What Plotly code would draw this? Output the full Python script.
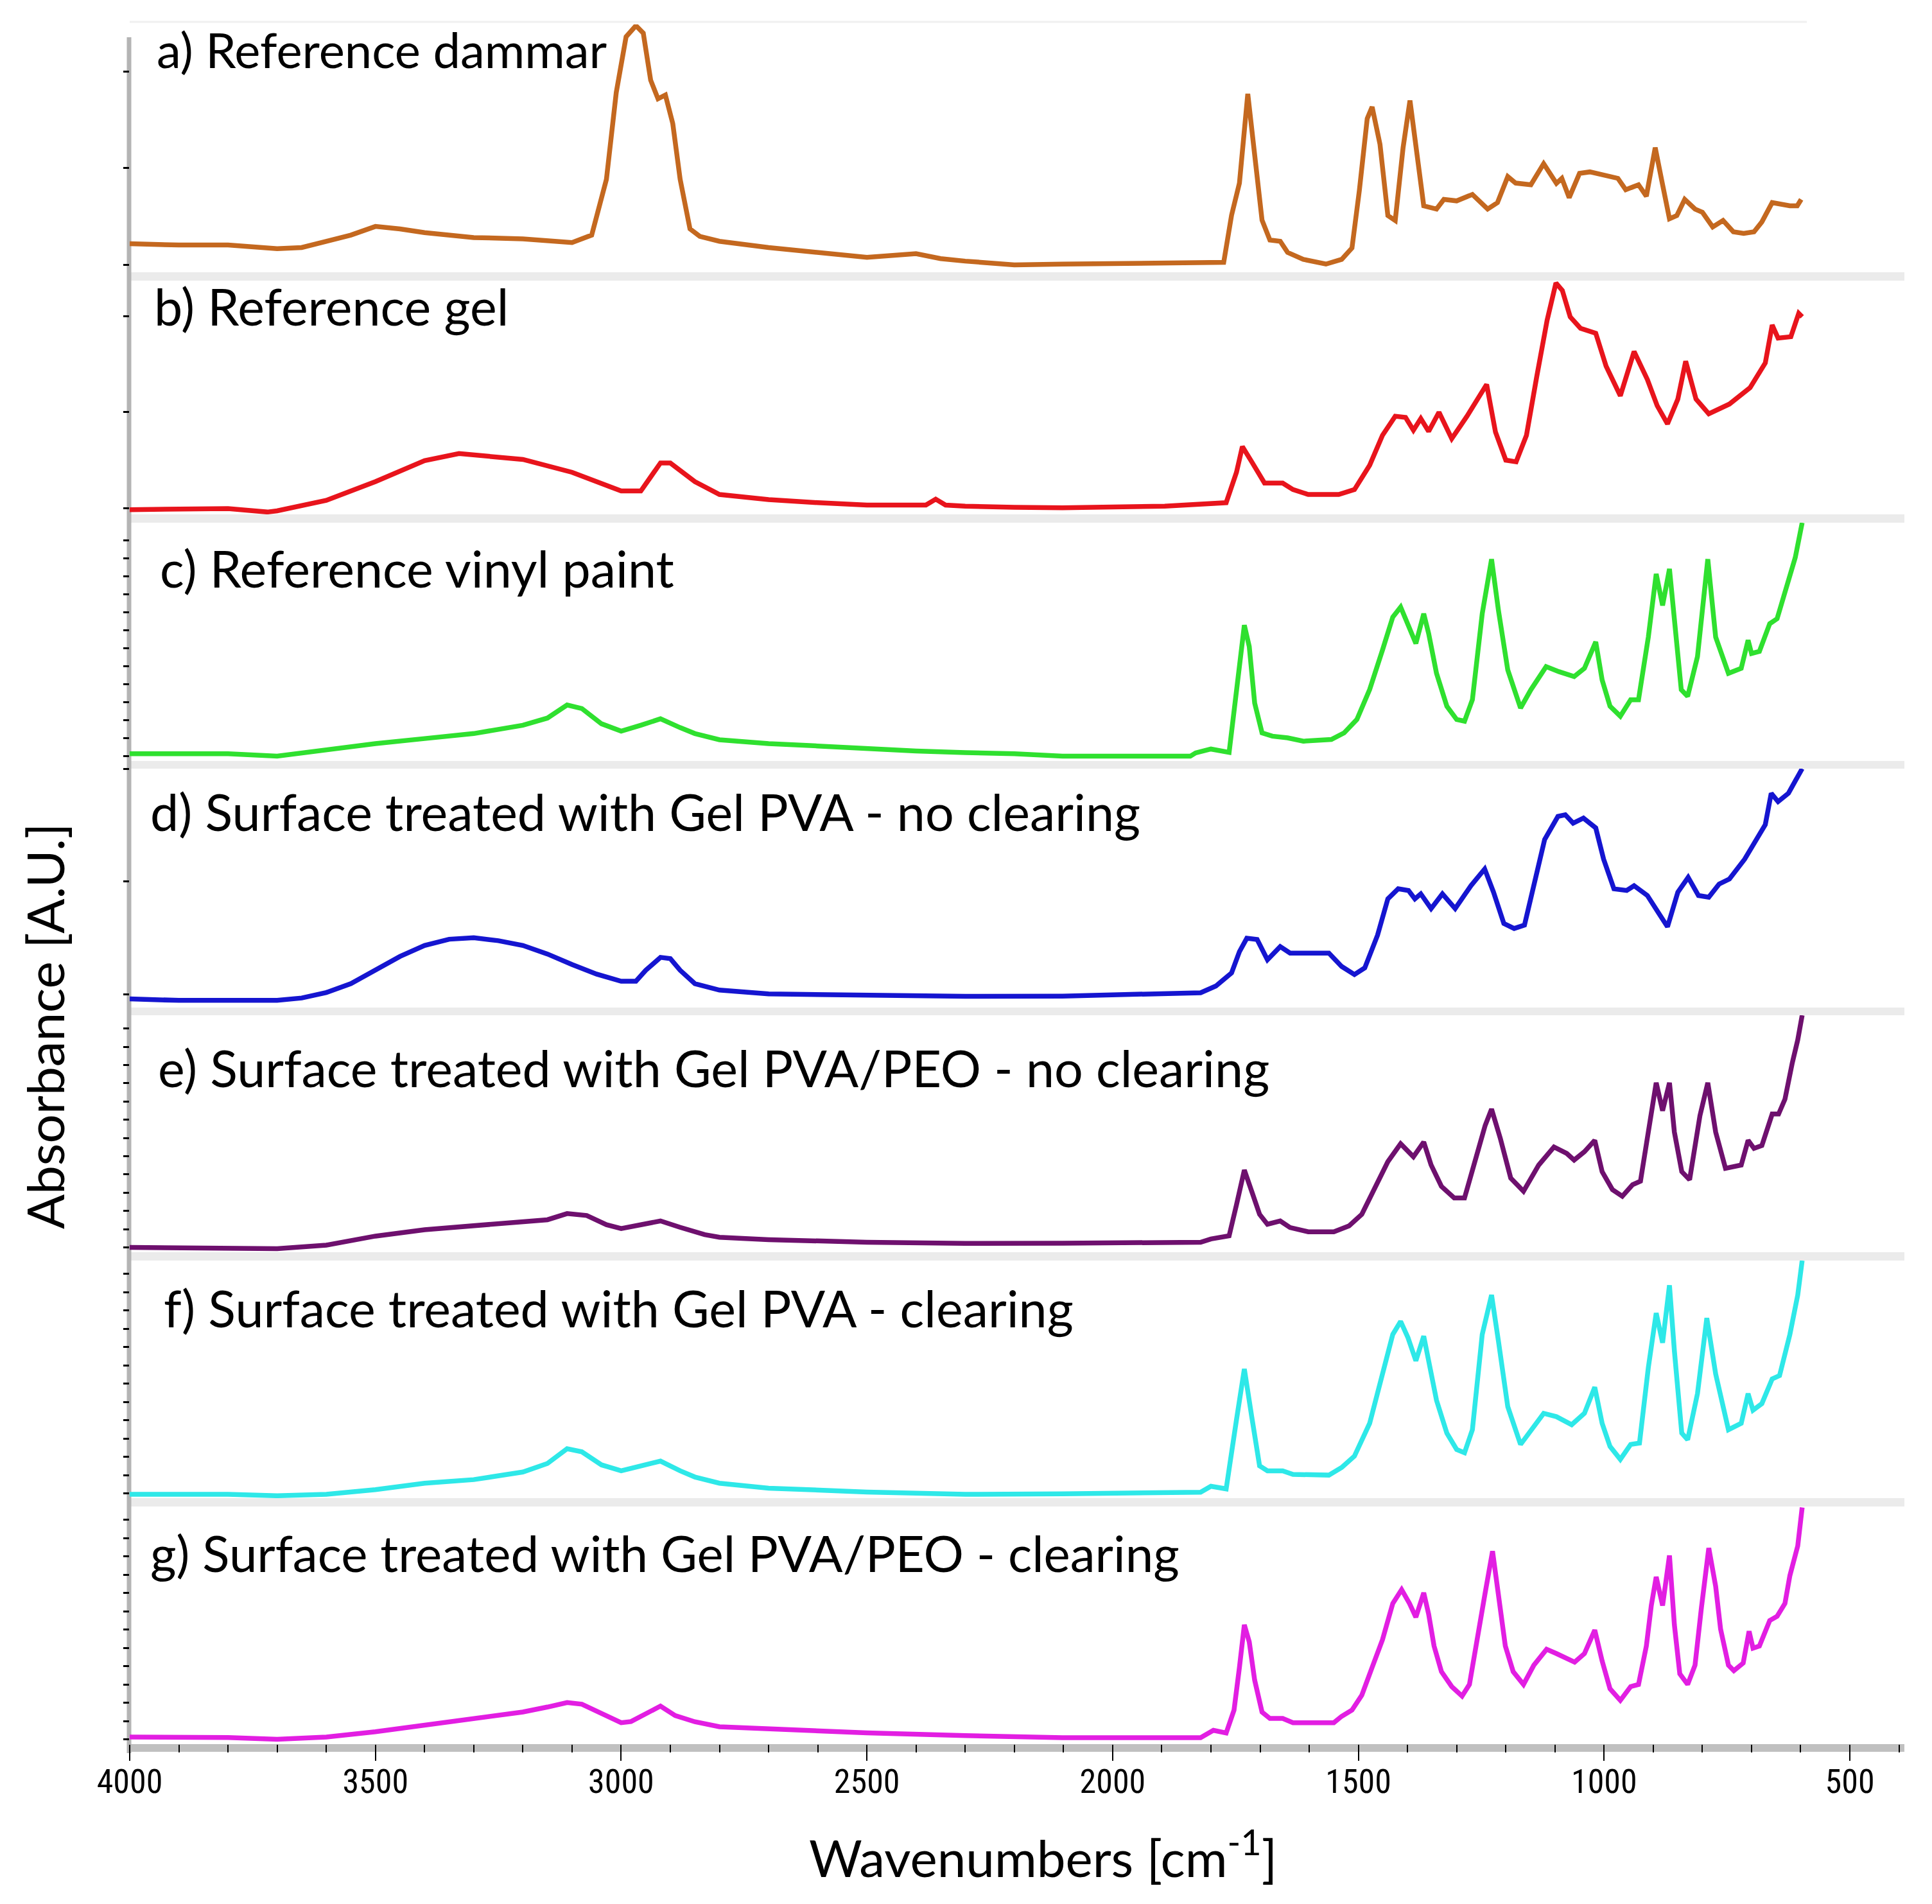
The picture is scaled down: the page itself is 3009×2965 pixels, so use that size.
import plotly.graph_objects as go

# ---------------- data (absorbance as fraction of panel height) -------------
wn_a = [4000, 3900, 3800, 3700, 3650, 3600, 3550, 3500, 3450, 3400, 3300, 3200, 3100, 3060, 3030, 3010,
        2990, 2970, 2955, 2940, 2925, 2910, 2895, 2880, 2860, 2840, 2800, 2700, 2600, 2500, 2400, 2350,
        2300, 2200, 2102, 1900, 1774, 1758, 1742, 1725, 1711, 1696, 1680, 1659, 1644, 1612, 1566, 1534,
        1513, 1498, 1482, 1472, 1456, 1440, 1425, 1409, 1395, 1383, 1367, 1341, 1326, 1300, 1268, 1237,
        1217, 1196, 1180, 1149, 1123, 1097, 1086, 1071, 1050, 1029, 998, 972, 956, 930, 914, 896, 883,
        867, 852, 836, 815, 800, 779, 758, 737, 716, 695, 679, 658, 643, 622, 607, 599]
abs_a = [0.115, 0.11, 0.11, 0.095, 0.10, 0.125, 0.15, 0.185, 0.175, 0.16, 0.14, 0.135, 0.12, 0.15, 0.375,
         0.725, 0.95, 0.995, 0.965, 0.775, 0.70, 0.715, 0.60, 0.375, 0.175, 0.145, 0.125, 0.10, 0.08, 0.06,
         0.075, 0.055, 0.045, 0.03, 0.033, 0.04, 0.04, 0.23, 0.36, 0.72, 0.48, 0.21, 0.13, 0.125, 0.08,
         0.052, 0.033, 0.052, 0.098, 0.33, 0.62, 0.667, 0.516, 0.229, 0.209, 0.503, 0.693, 0.516, 0.268,
         0.255, 0.294, 0.288, 0.314, 0.255, 0.281, 0.386, 0.36, 0.353, 0.438, 0.359, 0.379, 0.301, 0.399,
         0.405, 0.392, 0.379, 0.333, 0.353, 0.307, 0.503, 0.373, 0.216, 0.229, 0.294, 0.255, 0.242, 0.183,
         0.209, 0.163, 0.157, 0.163, 0.203, 0.281, 0.275, 0.268, 0.268, 0.294]

wn_b = [4000, 3800, 3720, 3700, 3600, 3500, 3400, 3330, 3200, 3100, 3000, 2960, 2940, 2920, 2900, 2880,
        2850, 2800, 2700, 2600, 2500, 2380, 2360, 2340, 2300, 2200, 2102, 1894, 1769, 1748, 1736, 1717,
        1691, 1654, 1633, 1602, 1540, 1508, 1477, 1451, 1425, 1404, 1388, 1373, 1357, 1336, 1310, 1279,
        1239, 1221, 1200, 1179, 1158, 1137, 1116, 1098, 1085, 1069, 1048, 1017, 996, 967, 939, 912, 892,
        871, 850, 834, 813, 787, 745, 703, 672, 658, 646, 620, 604, 597]
abs_b = [0.02, 0.025, 0.01, 0.015, 0.06, 0.14, 0.23, 0.26, 0.235, 0.18, 0.10, 0.10, 0.16, 0.22, 0.22, 0.19,
         0.14, 0.085, 0.063, 0.05, 0.04, 0.04, 0.065, 0.04, 0.035, 0.03, 0.028, 0.035, 0.05, 0.18, 0.29,
         0.225, 0.134, 0.134, 0.106, 0.085, 0.085, 0.106, 0.21, 0.338, 0.42, 0.415, 0.36, 0.41, 0.355,
         0.437, 0.324, 0.42, 0.556, 0.352, 0.232, 0.225, 0.338, 0.59, 0.83, 0.99, 0.958, 0.845, 0.796,
         0.775, 0.634, 0.507, 0.697, 0.577, 0.465, 0.387, 0.493, 0.655, 0.493, 0.43, 0.472, 0.542, 0.648,
         0.81, 0.754, 0.76, 0.86, 0.845]

wn_c = [4000, 3800, 3700, 3600, 3500, 3400, 3300, 3200, 3150, 3110, 3080, 3040, 3000, 2960, 2920, 2880,
        2850, 2800, 2700, 2600, 2500, 2400, 2300, 2200, 2102, 1842, 1831, 1800, 1763, 1748, 1732, 1722,
        1711, 1696, 1675, 1644, 1612, 1555, 1529, 1503, 1477, 1451, 1430, 1414, 1399, 1383, 1367, 1357,
        1341, 1320, 1300, 1284, 1268, 1248, 1229, 1215, 1196, 1170, 1149, 1118, 1092, 1061, 1040, 1017,
        1004, 988, 967, 946, 930, 910, 894, 881, 867, 857, 843, 830, 810, 789, 773, 747, 721, 707, 700,
        684, 663, 648, 627, 611, 597]
abs_c = [0.03, 0.03, 0.02, 0.047, 0.073, 0.094, 0.115, 0.15, 0.18, 0.235, 0.22, 0.156, 0.125, 0.15, 0.177,
         0.14, 0.115, 0.089, 0.073, 0.063, 0.05, 0.042, 0.035, 0.03, 0.02, 0.02, 0.034, 0.05, 0.036, 0.30,
         0.57, 0.48, 0.243, 0.118, 0.104, 0.097, 0.083, 0.09, 0.118, 0.174, 0.30, 0.465, 0.604, 0.646,
         0.576, 0.493, 0.618, 0.535, 0.368, 0.23, 0.174, 0.167, 0.257, 0.618, 0.847, 0.632, 0.382, 0.222,
         0.299, 0.396, 0.375, 0.354, 0.389, 0.50, 0.34, 0.23, 0.188, 0.257, 0.257, 0.52, 0.785, 0.653,
         0.806, 0.576, 0.299, 0.271, 0.438, 0.847, 0.52, 0.368, 0.389, 0.507, 0.451, 0.46, 0.576, 0.597,
         0.743, 0.854, 1.0]

wn_d = [4000, 3900, 3800, 3700, 3650, 3600, 3550, 3500, 3450, 3400, 3350, 3300, 3250, 3200, 3150, 3100,
        3050, 3000, 2970, 2950, 2920, 2900, 2880, 2850, 2800, 2700, 2500, 2300, 2102, 1821, 1790, 1758,
        1742, 1727, 1706, 1685, 1659, 1639, 1560, 1534, 1508, 1487, 1461, 1440, 1419, 1398, 1385, 1373,
        1352, 1329, 1303, 1271, 1243, 1225, 1204, 1183, 1162, 1141, 1121, 1094, 1079, 1063, 1042, 1017,
        1001, 980, 954, 939, 912, 886, 871, 850, 829, 808, 787, 766, 745, 714, 693, 672, 660, 646, 625,
        609, 597]
abs_d = [0.036, 0.03, 0.03, 0.03, 0.04, 0.063, 0.10, 0.156, 0.214, 0.26, 0.286, 0.292, 0.28, 0.26, 0.224,
         0.18, 0.14, 0.11, 0.11, 0.156, 0.21, 0.205, 0.156, 0.10, 0.073, 0.057, 0.052, 0.047, 0.048, 0.062,
         0.09, 0.145, 0.234, 0.29, 0.285, 0.20, 0.255, 0.228, 0.228, 0.172, 0.138, 0.166, 0.303, 0.455,
         0.497, 0.49, 0.455, 0.476, 0.414, 0.476, 0.414, 0.51, 0.58, 0.483, 0.352, 0.331, 0.345, 0.524,
         0.703, 0.80, 0.807, 0.772, 0.793, 0.752, 0.621, 0.497, 0.49, 0.51, 0.469, 0.386, 0.338, 0.483,
         0.545, 0.469, 0.462, 0.517, 0.538, 0.621, 0.69, 0.766, 0.897, 0.862, 0.897, 0.952, 1.0]

wn_e = [4000, 3800, 3700, 3600, 3500, 3400, 3300, 3200, 3150, 3110, 3070, 3030, 3000, 2960, 2920, 2880,
        2830, 2800, 2700, 2500, 2300, 2102, 1821, 1800, 1763, 1748, 1732, 1717, 1701, 1685, 1659, 1639,
        1602, 1550, 1519, 1493, 1466, 1440, 1414, 1388, 1367, 1352, 1331, 1305, 1284, 1263, 1242, 1229,
        1211, 1190, 1164, 1133, 1102, 1076, 1061, 1040, 1019, 1004, 983, 963, 942, 926, 907, 894, 881,
        867, 857, 842, 826, 805, 789, 773, 753, 721, 707, 695, 679, 658, 645, 632, 617, 606, 597]
abs_e = [0.02, 0.02, 0.015, 0.03, 0.068, 0.095, 0.11, 0.126, 0.137, 0.163, 0.155, 0.116, 0.10, 0.116, 0.132,
         0.105, 0.074, 0.063, 0.053, 0.042, 0.037, 0.038, 0.042, 0.056, 0.069, 0.20, 0.347, 0.257, 0.16,
         0.118, 0.132, 0.104, 0.086, 0.086, 0.111, 0.16, 0.271, 0.382, 0.458, 0.403, 0.465, 0.368, 0.278,
         0.229, 0.229, 0.382, 0.535, 0.604, 0.479, 0.313, 0.257, 0.368, 0.444, 0.417, 0.389, 0.424, 0.472,
         0.34, 0.264, 0.236, 0.285, 0.30, 0.535, 0.715, 0.597, 0.715, 0.507, 0.34, 0.306, 0.576, 0.715,
         0.507, 0.354, 0.368, 0.472, 0.438, 0.45, 0.583, 0.583, 0.646, 0.80, 0.896, 1.0]

wn_f = [4000, 3800, 3700, 3600, 3500, 3400, 3300, 3200, 3150, 3110, 3080, 3040, 3000, 2960, 2920, 2880,
        2850, 2800, 2700, 2500, 2300, 2102, 1821, 1800, 1769, 1748, 1732, 1717, 1701, 1685, 1654, 1633,
        1560, 1534, 1508, 1477, 1451, 1430, 1414, 1399, 1383, 1367, 1357, 1341, 1320, 1300, 1284, 1268,
        1248, 1229, 1215, 1196, 1170, 1149, 1123, 1097, 1066, 1040, 1019, 1004, 988, 967, 946, 928, 910,
        894, 881, 867, 857, 842, 830, 810, 791, 773, 747, 721, 707, 697, 679, 658, 643, 622, 606, 597]
abs_f = [0.016, 0.016, 0.01, 0.016, 0.036, 0.063, 0.078, 0.11, 0.146, 0.208, 0.195, 0.14, 0.115, 0.135,
         0.156, 0.115, 0.089, 0.063, 0.042, 0.026, 0.016, 0.018, 0.025, 0.05, 0.039, 0.33, 0.544, 0.343,
         0.136, 0.115, 0.115, 0.10, 0.097, 0.129, 0.177, 0.315, 0.523, 0.689, 0.744, 0.675, 0.578, 0.682,
         0.578, 0.412, 0.274, 0.205, 0.191, 0.288, 0.689, 0.855, 0.661, 0.385, 0.226, 0.281, 0.357, 0.343,
         0.309, 0.357, 0.467, 0.315, 0.218, 0.163, 0.226, 0.232, 0.55, 0.779, 0.654, 0.896, 0.62, 0.274,
         0.246, 0.44, 0.758, 0.523, 0.288, 0.315, 0.44, 0.37, 0.398, 0.502, 0.516, 0.689, 0.855, 1.0]

wn_g = [4000, 3800, 3700, 3600, 3500, 3400, 3300, 3200, 3150, 3110, 3080, 3040, 3000, 2980, 2950, 2920,
        2890, 2850, 2800, 2700, 2500, 2300, 2102, 1821, 1795, 1769, 1753, 1742, 1732, 1722, 1711, 1696,
        1680, 1654, 1633, 1550, 1534, 1513, 1493, 1472, 1451, 1430, 1412, 1396, 1383, 1367, 1357, 1346,
        1331, 1310, 1289, 1274, 1258, 1242, 1227, 1215, 1201, 1185, 1164, 1143, 1117, 1097, 1071, 1060,
        1040, 1019, 1004, 988, 967, 946, 930, 914, 904, 894, 881, 867, 857, 846, 830, 815, 802, 787, 773,
        763, 747, 736, 717, 705, 697, 684, 663, 648, 632, 622, 606, 597]
abs_g = [0.03, 0.028, 0.02, 0.03, 0.052, 0.078, 0.104, 0.135, 0.156, 0.175, 0.168, 0.13, 0.09, 0.095, 0.125,
         0.16, 0.12, 0.094, 0.073, 0.063, 0.047, 0.036, 0.027, 0.027, 0.058, 0.047, 0.143, 0.323, 0.502,
         0.43, 0.269, 0.135, 0.108, 0.108, 0.09, 0.09, 0.117, 0.143, 0.206, 0.323, 0.439, 0.592, 0.65,
         0.592, 0.534, 0.637, 0.547, 0.413, 0.305, 0.242, 0.202, 0.251, 0.457, 0.637, 0.812, 0.61, 0.413,
         0.305, 0.251, 0.332, 0.399, 0.381, 0.359, 0.345, 0.381, 0.48, 0.35, 0.233, 0.184, 0.242, 0.251,
         0.413, 0.583, 0.704, 0.583, 0.794, 0.502, 0.296, 0.251, 0.332, 0.574, 0.825, 0.664, 0.484, 0.332,
         0.309, 0.341, 0.475, 0.404, 0.413, 0.52, 0.538, 0.592, 0.709, 0.834, 0.996]

labels = ["a) Reference dammar",
          "b) Reference gel",
          "c) Reference vinyl paint",
          "d) Surface treated with Gel PVA - no clearing",
          "e) Surface treated with Gel PVA/PEO - no clearing",
          "f) Surface treated with Gel PVA - clearing",
          "g) Surface treated with Gel PVA/PEO - clearing"]
colors = ["#C4681F", "#E8141C", "#2FE02F", "#1515D0", "#6E106E", "#2EE8E8", "#E21EE2"]
series_x = [wn_a, wn_b, wn_c, wn_d, wn_e, wn_f, wn_g]
series_y = [abs_a, abs_b, abs_c, abs_d, abs_e, abs_f, abs_g]
x_tick_step = 500
x_minor_step = 100

# ---------------- layout geometry (pixels of the 3009 x 2965 canvas) ----------------
W, H = 3009, 2965
L, R, T, B = 194, 2958, 30, 2708          # plot area edges
panels_px = [(30, 416), (429, 793), (806, 1177), (1189, 1561), (1573, 1942), (1955, 2325), (2338, 2708)]
PH = B - T
PW = R - L


def py(ypx):
    return (B - ypx) / PH


def px(xpx):
    return (xpx - L) / PW


# y tick configuration per panel (tick0, dtick)
ytick_cfg = [(0.03, 0.39), (0.027, 0.41), (0.02, 0.0755), (0.054, 0.473),
             (0.02, 0.077), (0.02, 0.077), (0.02, 0.077)]

fig = go.Figure()
for i in range(7):
    yname = "y" if i == 0 else f"y{i + 1}"
    fig.add_trace(go.Scatter(x=series_x[i], y=series_y[i], mode="lines",
                             line=dict(color=colors[i], width=7.5),
                             xaxis="x", yaxis=yname, showlegend=False, hoverinfo="skip"))

layout = dict(
    width=W, height=H,
    margin=dict(l=L, r=W - R, t=T, b=H - B, pad=0),
    paper_bgcolor="white", plot_bgcolor="white",
    showlegend=False,
    xaxis=dict(range=[4000, 389], anchor="y7", showgrid=False, zeroline=False, showline=False,
               ticks="outside", ticklen=25, tickwidth=2, tickcolor="black",
               tick0=0, dtick=x_tick_step,
               minor=dict(ticks="outside", ticklen=12, tickwidth=2, tickcolor="black",
                          dtick=x_minor_step, showgrid=False),
               tickfont=dict(family="Roboto Condensed, DejaVu Sans Condensed, Liberation Sans Narrow, "
                                    "Liberation Sans, sans-serif",
                             size=52, color="black"),
               ticklabelstandoff=-12),
)
for i in range(7):
    top, bot = panels_px[i]
    key = "yaxis" if i == 0 else f"yaxis{i + 1}"
    t0, dt = ytick_cfg[i]
    layout[key] = dict(domain=[py(bot), py(top)], range=[0, 1], anchor="x",
                       showgrid=False, zeroline=False, showline=False, showticklabels=False,
                       ticks="outside", ticklen=9, tickwidth=3, tickcolor="black",
                       tick0=t0, dtick=dt)
fig.update_layout(**layout)

shapes = []
# separator bands between panels
for i in range(6):
    y0 = panels_px[i][1]
    y1 = panels_px[i + 1][0]
    shapes.append(dict(type="rect", xref="paper", yref="paper", x0=px(L), x1=px(R),
                       y0=py(y1), y1=py(y0), fillcolor="#ebebeb", line=dict(width=0), layer="below"))
# faint top line
shapes.append(dict(type="line", xref="paper", yref="paper", x0=px(L), x1=px(2806),
                   y0=py(26), y1=py(26), line=dict(color="#f0f0f0", width=3), layer="below"))
# bottom axis band
shapes.append(dict(type="rect", xref="paper", yref="paper", x0=px(L), x1=px(R),
                   y0=py(2720), y1=py(2708), fillcolor="#c0c0c0", line=dict(width=0), layer="below"))
# left vertical axis line
shapes.append(dict(type="line", xref="paper", yref="paper", x0=px(193), x1=px(193),
                   y0=py(2722), y1=py(50), line=dict(color="#b4b4b4", width=7), layer="below"))
fig.update_layout(shapes=shapes)

label_pos = [(234, 69), (230, 468), (239, 876), (224, 1255), (236, 1654), (245, 2028), (224, 2410)]
label_size = [76, 79, 79, 79, 79, 79, 78]
ann = []
for i, (lx, ly) in enumerate(label_pos):
    ann.append(dict(text=labels[i], xref="paper", yref="paper", x=px(lx), y=py(ly),
                    xanchor="left", yanchor="middle", showarrow=False,
                    font=dict(family="Lato, Open Sans, sans-serif", size=label_size[i], color="black")))
ann.append(dict(text="Wavenumbers [cm<sup>-1</sup>]", xref="paper", yref="paper",
                x=px(1616), y=py(2879), xanchor="center", yanchor="middle", showarrow=False,
                font=dict(family="Lato, Open Sans, sans-serif", size=80, color="black")))
ann.append(dict(text="Absorbance [A.U.]", xref="paper", yref="paper", textangle=-90,
                x=px(61), y=py(1590), xanchor="center", yanchor="middle", showarrow=False,
                font=dict(family="Lato, Open Sans, sans-serif", size=80, color="black")))
fig.update_layout(annotations=ann)

fig.write_html("out.html")
